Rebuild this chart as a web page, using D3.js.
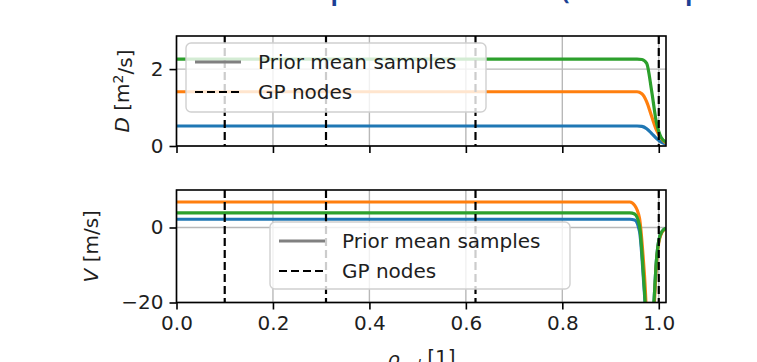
<!DOCTYPE html>
<html>
<head>
<meta charset="utf-8">
<script src="https://cdn.jsdelivr.net/npm/d3@7"></script>
<style>
  html, body { margin: 0; padding: 0; background: #fff; }
  svg { display: block; }
</style>
</head>
<body>
<div id="chart"></div>
<script>
// data
const gpNodes = [0.1, 0.31, 0.62, 1.0];
const xTicks = [0, 0.2, 0.4, 0.6, 0.8, 1.0];
const dTicks = [0, 2];
const vTicks = [-20, 0];
const seriesColors = ["#1f77b4", "#ff7f0e", "#2ca02c"];

// D [m^2/s] samples
const dRho = [0, 0.955, 0.965, 0.975, 0.985, 0.995, 1.005, 1.015];
const dBlue = [0.52, 0.52, 0.51, 0.45, 0.33, 0.2, 0.1, 0.05];
const dOrange = [1.41, 1.41, 1.36, 1.15, 0.78, 0.42, 0.2, 0.08];
const dGreen = [2.26, 2.26, 2.25, 2.15, 1.45, 0.62, 0.22, 0.1];

// V [m/s] samples
const vRho = [0, 0.94, 0.95, 0.96, 0.97, 0.98, 0.99, 0.995, 1.0, 1.007, 1.015];
const vBlue = [2.2, 2.2, 2.0, -1, -17, -36, -20, -9, -3.5, -1, -0.2];
const vOrange = [6.8, 6.8, 5.9, 2.5, -12, -32, -22, -10, -4, -1.2, -0.3];
const vGreen = [3.9, 3.9, 3.6, 0.5, -16, -36, -20, -9, -3.5, -1, -0.2];

const width = 757, height = 362;
const font = "'DejaVu Sans', sans-serif";
const textColor = "#1e1e1e";

const svg = d3.select("#chart").append("svg")
  .attr("width", width)
  .attr("height", height);

// slide title, mostly cut off at the top edge
svg.append("text")
  .attr("x", 256)
  .attr("y", -1)
  .style("font-family", "'Noto Sans', sans-serif")
  .style("font-size", "28px")
  .style("font-weight", 600)
  .style("fill", "#1c3f94")
  .text("Transport coefficients (random profiles)");

const x = d3.scaleLinear().domain([0, 1.015]).range([176.5, 666]);

const panels = [
  {
    id: "D",
    top: 36, bottom: 146,
    domain: [0, 2.86],
    ticks: dTicks,
    rho: dRho,
    series: [dBlue, dOrange, dGreen],
    label: [["D", true], [" [m", false], ["2", false, true], ["/s]", false]],
    labelX: 122,
    legend: { x: 186, y: 43, w: 300, h: 69 },
    showXLabels: false
  },
  {
    id: "V",
    top: 190, bottom: 302.5,
    domain: [-20, 10],
    ticks: vTicks,
    rho: vRho,
    series: [vBlue, vOrange, vGreen],
    label: [["V", true], [" [m/s]", false]],
    labelX: 91,
    legend: { x: 270, y: 222, w: 300, h: 67 },
    showXLabels: true
  }
];

panels.forEach(p => {
  const y = d3.scaleLinear().domain(p.domain).range([p.bottom, p.top]);
  const g = svg.append("g");

  g.append("clipPath").attr("id", "clip-" + p.id)
    .append("rect")
    .attr("x", x.range()[0]).attr("y", p.top)
    .attr("width", x.range()[1] - x.range()[0])
    .attr("height", p.bottom - p.top);

  // grid
  g.selectAll(".vgrid").data(xTicks).enter().append("line")
    .attr("x1", d => x(d)).attr("x2", d => x(d))
    .attr("y1", p.top).attr("y2", p.bottom)
    .style("stroke", "#b8b8b8").style("stroke-width", 1.4);
  g.selectAll(".hgrid").data(p.ticks).enter().append("line")
    .attr("x1", x.range()[0]).attr("x2", x.range()[1])
    .attr("y1", d => y(d)).attr("y2", d => y(d))
    .style("stroke", "#b8b8b8").style("stroke-width", 1.4);

  // sample curves
  const line = d3.line()
    .x((d, i) => x(p.rho[i]))
    .y(d => y(d))
    .curve(d3.curveMonotoneX);
  p.series.forEach((s, i) => {
    g.append("path")
      .attr("clip-path", "url(#clip-" + p.id + ")")
      .attr("d", line(s))
      .style("fill", "none")
      .style("stroke", seriesColors[i])
      .style("stroke-width", 3.2);
  });

  // GP nodes
  g.selectAll(".gp").data(gpNodes).enter().append("line")
    .attr("x1", d => x(d)).attr("x2", d => x(d))
    .attr("y1", p.top).attr("y2", p.bottom)
    .style("stroke", "#000")
    .style("stroke-width", 2.2)
    .style("stroke-dasharray", "8,4");

  // axes
  const yAxis = g.append("g")
    .attr("transform", "translate(" + x.range()[0] + ",0)")
    .call(d3.axisLeft(y).tickValues(p.ticks).tickSize(7).tickPadding(6)
      .tickFormat(d => d3.format("d")(d).replace("-", "\u2212")));
  const xAxis = g.append("g")
    .attr("transform", "translate(0," + p.bottom + ")")
    .call(d3.axisBottom(x).tickValues(xTicks).tickSize(7).tickPadding(6)
      .tickFormat(p.showXLabels ? d3.format(".1f") : () => ""));
  [xAxis, yAxis].forEach(a => {
    a.select(".domain").remove();
    a.selectAll("line").style("stroke", "#000").style("stroke-width", 1.6);
    a.selectAll("text").style("font-family", font).style("font-size", "20px").style("fill", textColor);
  });

  // frame
  g.append("rect")
    .attr("x", x.range()[0]).attr("y", p.top)
    .attr("width", x.range()[1] - x.range()[0])
    .attr("height", p.bottom - p.top)
    .style("fill", "none")
    .style("stroke", "#000")
    .style("stroke-width", 1.6);

  // y label
  const lbl = g.append("text")
    .attr("transform", "translate(" + p.labelX + "," + ((p.top + p.bottom) / 2) + ") rotate(-90)")
    .attr("text-anchor", "middle")
    .attr("dy", "0.35em")
    .style("font-family", font)
    .style("font-size", "20px")
    .style("fill", textColor);
  p.label.forEach(([t, it, sup]) => {
    const ts = lbl.append("tspan").text(t);
    if (it) ts.style("font-style", "italic");
    if (sup) ts.attr("dy", "-0.45em").style("font-size", "14px");
    else if (t.startsWith("/")) ts.attr("dy", "0.45em");
  });

  // legend
  const L = p.legend;
  const lg = g.append("g");
  lg.append("rect")
    .attr("x", L.x).attr("y", L.y).attr("width", L.w).attr("height", L.h)
    .attr("rx", 5)
    .style("fill", "#fff").style("fill-opacity", 0.8)
    .style("stroke", "#d0d0d0").style("stroke-width", 1.4);
  const rows = [
    { name: "Prior mean samples", color: "#808080", dash: null, w: 3 },
    { name: "GP nodes", color: "#000", dash: "8,4", w: 2 }
  ];
  rows.forEach((r, i) => {
    const cy = L.y + 19 + i * 30;
    lg.append("line")
      .attr("x1", L.x + 9).attr("x2", L.x + 55)
      .attr("y1", cy).attr("y2", cy)
      .style("stroke", r.color)
      .style("stroke-width", r.w)
      .style("stroke-dasharray", r.dash);
    lg.append("text")
      .attr("x", L.x + 72).attr("y", cy)
      .attr("dy", "0.35em")
      .style("font-family", font)
      .style("font-size", "20px")
      .style("fill", textColor)
      .text(r.name);
  });
});

// x label, cut off at the bottom
const xl = svg.append("text")
  .attr("x", (x.range()[0] + x.range()[1]) / 2)
  .attr("y", 366)
  .attr("text-anchor", "middle")
  .style("font-family", font)
  .style("font-size", "20px")
  .style("fill", textColor);
xl.append("tspan").style("font-style", "italic").text("\u03c1");
xl.append("tspan").attr("dy", "0.3em").style("font-style", "italic").style("font-size", "14px").text("pol");
xl.append("tspan").attr("dy", "-0.3em").text(" [1]");
</script>
</body>
</html>
